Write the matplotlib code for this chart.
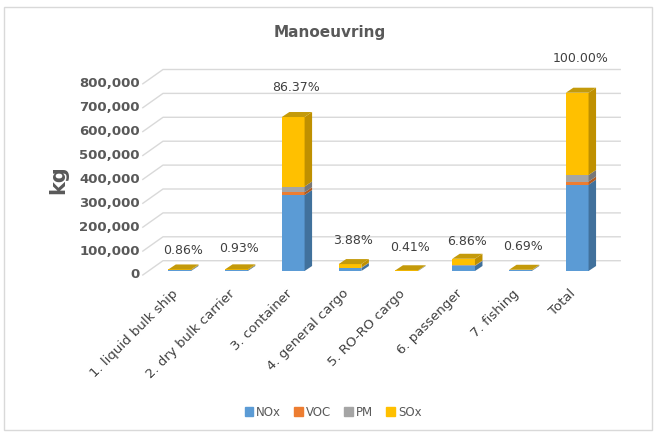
import matplotlib
matplotlib.use("Agg")
import matplotlib.pyplot as plt
import matplotlib.transforms as mtransforms
from matplotlib.patches import Patch, Rectangle

# emissions while manoeuvring, kg per ship type
ship_types = ["1. liquid bulk ship", "2. dry bulk carrier", "3. container",
              "4. general cargo", "5. RO-RO cargo", "6. passenger", "7. fishing"]
nox = [2900, 3100, 318000, 12500, 1400, 21000, 2400]
voc = [100, 100, 11500, 450, 50, 700, 80]
pm = [250, 270, 24000, 1100, 120, 1500, 200]
sox = [3166, 3468, 290800, 14900, 1489, 27980, 2467]

pollutants = ["NOx", "VOC", "PM", "SOx"]
yticks = [0, 100000, 200000, 300000, 400000, 500000, 600000, 700000, 800000]

front_cols = ["#5B9BD5", "#ED7D31", "#A5A5A5", "#FFC000"]
side_cols = ["#41719C", "#AE5A21", "#787878", "#BF9000"]
top_col = "#C49A0A"
grid_col = "#D9D9D9"
text_col = "#595959"

# append the Total column
series = [nox, voc, pm, sox]
series = [s + [sum(s)] for s in series]
labels = ship_types + ["Total"]
totals = [sum(v) for v in zip(*series)]
grand = totals[-1]

fig = plt.figure(figsize=(6.57, 4.32), dpi=100)
ax = fig.add_axes([148.4 / 657, 161 / 432, 457.2 / 657, 191.2 / 432])
ax.set_xlim(-0.55, 7.5)
ax.set_ylim(0, 800000)
ax.axis("off")


def px(dx, dy):
    # pixel offset -> data offset
    inv = ax.transData.inverted()
    x0, y0 = inv.transform((0, 0))
    x1, y1 = inv.transform((dx, dy))
    return x1 - x0, y1 - y0


# back wall gridlines with their side-wall diagonals
fx, fy = px(-5.6, -4)
bx, by = px(14.6, 10.3)
xl, xr = ax.get_xlim()
for v in yticks:
    ax.plot([xl + fx, xl + bx, xr + bx], [v + fy, v + by, v + by],
            color=grid_col, lw=1, clip_on=False, zorder=0)
    ax.text(xl, v, f"{v:,}", ha="right", va="center", fontsize=9.5,
            fontweight="bold", color=text_col,
            transform=mtransforms.offset_copy(ax.transData, fig=fig, x=-8.5, y=-4, units="dots"))

# 3D-looking stacked columns
w = 0.4
dx, dy = px(7.5, 5)
for i in range(len(labels)):
    base = 0
    for k, s in enumerate(series):
        v = s[i]
        ax.bar(i, v, w, bottom=base, color=front_cols[k], lw=0, zorder=2)
        xr_ = i + w / 2
        ax.fill([xr_, xr_ + dx, xr_ + dx, xr_], [base, base + dy, base + v + dy, base + v],
                color=side_cols[k], lw=0, zorder=2)
        base += v
    xl_ = i - w / 2
    ax.fill([xl_, xl_ + w, xl_ + w + dx, xl_ + dx], [base, base, base + dy, base + dy],
            color=top_col, lw=0, zorder=3)

# share of the total above each column
label_pad = [19, 21, 30, 24, 23, 17, 23, 34]
for i, t in enumerate(totals):
    ax.text(i, t, f"{t / grand * 100:.2f}%", ha="center", va="center", fontsize=9,
            color="#404040",
            transform=mtransforms.offset_copy(ax.transData, fig=fig, x=3, y=label_pad[i], units="dots"))

# category labels
for i, lab in enumerate(labels):
    ax.text(i, 0, lab, rotation=45, rotation_mode="anchor", ha="right", va="top",
            fontsize=9.5, color="#404040",
            transform=mtransforms.offset_copy(ax.transData, fig=fig, x=-8, y=-16, units="dots"))

fig.text(330 / 657, 1 - 33 / 432, "Manoeuvring", ha="center", va="center",
         fontsize=11, fontweight="bold", color=text_col)
fig.text(58 / 657, 1 - 180 / 432, "kg", ha="center", va="center", rotation=90,
         fontsize=15, fontweight="bold", color=text_col)

handles = [Patch(color=c, label=p) for c, p in zip(front_cols, pollutants)]
leg = fig.legend(handles=handles, loc="center", bbox_to_anchor=(0.507, 20 / 432), ncol=4,
                 frameon=False, fontsize=8.5, handlelength=0.7, handleheight=0.7,
                 handletextpad=0.3, columnspacing=1.1)
for t in leg.get_texts():
    t.set_color(text_col)

fig.patches.append(Rectangle((4 / 657, 2 / 432), 648 / 657, 423 / 432, transform=fig.transFigure,
                             fill=False, edgecolor=grid_col, lw=1))

fig.savefig("out.png", dpi=100)
